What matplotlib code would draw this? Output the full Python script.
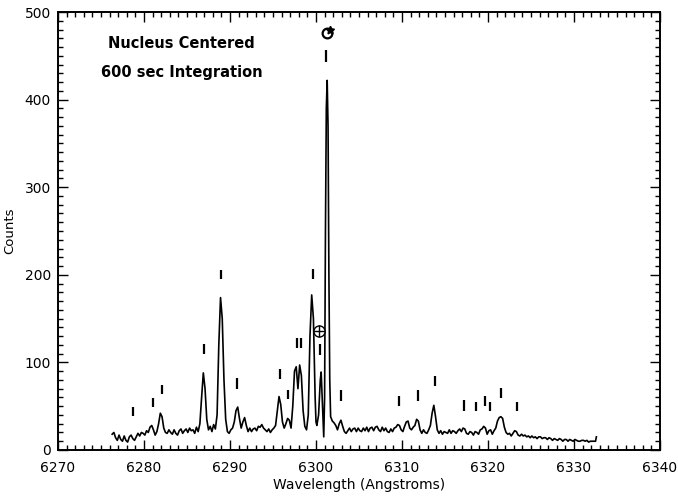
import numpy as np
import matplotlib
matplotlib.use("Agg")
import matplotlib.pyplot as plt
from matplotlib.ticker import MultipleLocator

# spectrum (Angstroms, counts)
wave = [
    6276.3, 6276.5, 6276.7, 6276.9, 6277.1, 6277.3, 6277.5, 6277.7, 6277.9, 6278.1,
    6278.3, 6278.5, 6278.7, 6278.9, 6279.1, 6279.3, 6279.5, 6279.7, 6279.9, 6280.1,
    6280.3, 6280.5, 6280.7, 6280.9, 6281.1, 6281.3, 6281.5, 6281.7, 6281.9, 6282.1,
    6282.3, 6282.5, 6282.7, 6282.9, 6283.1, 6283.3, 6283.5, 6283.7, 6283.9, 6284.1,
    6284.3, 6284.5, 6284.7, 6284.9, 6285.1, 6285.3, 6285.5, 6285.7, 6285.9, 6286.1,
    6286.3, 6286.5, 6286.7, 6286.9, 6287.1, 6287.3, 6287.5, 6287.7, 6287.9, 6288.1,
    6288.3, 6288.5, 6288.7, 6288.9, 6289.1, 6289.3, 6289.5, 6289.7, 6289.9, 6290.1,
    6290.3, 6290.5, 6290.7, 6290.9, 6291.1, 6291.3, 6291.5, 6291.7, 6291.9, 6292.1,
    6292.3, 6292.5, 6292.7, 6292.9, 6293.1, 6293.3, 6293.5, 6293.7, 6293.9, 6294.1,
    6294.3, 6294.5, 6294.7, 6294.9, 6295.1, 6295.3, 6295.5, 6295.7, 6295.9, 6296.1,
    6296.3, 6296.5, 6296.7, 6296.9, 6297.1, 6297.3, 6297.5, 6297.7, 6297.8, 6297.9,
    6298.1, 6298.3, 6298.5, 6298.7, 6298.9, 6299.1, 6299.3, 6299.5, 6299.7, 6299.9,
    6300.0, 6300.1, 6300.3, 6300.5, 6300.6, 6300.8, 6300.9, 6301.0, 6301.1, 6301.2,
    6301.3, 6301.4, 6301.5, 6301.6, 6301.7, 6301.9, 6302.1, 6302.3, 6302.5, 6302.7,
    6302.9, 6303.1, 6303.3, 6303.5, 6303.7, 6303.9, 6304.1, 6304.3, 6304.5, 6304.7,
    6304.9, 6305.1, 6305.3, 6305.5, 6305.7, 6305.9, 6306.1, 6306.3, 6306.5, 6306.7,
    6306.9, 6307.1, 6307.3, 6307.5, 6307.7, 6307.9, 6308.1, 6308.3, 6308.5, 6308.7,
    6308.9, 6309.1, 6309.3, 6309.5, 6309.7, 6309.9, 6310.1, 6310.3, 6310.5, 6310.7,
    6310.9, 6311.1, 6311.3, 6311.5, 6311.7, 6311.9, 6312.1, 6312.3, 6312.5, 6312.7,
    6312.9, 6313.1, 6313.3, 6313.5, 6313.7, 6313.9, 6314.1, 6314.3, 6314.5, 6314.7,
    6314.9, 6315.1, 6315.3, 6315.5, 6315.7, 6315.9, 6316.1, 6316.3, 6316.5, 6316.7,
    6316.9, 6317.1, 6317.3, 6317.5, 6317.7, 6317.9, 6318.1, 6318.3, 6318.5, 6318.7,
    6318.9, 6319.1, 6319.3, 6319.5, 6319.7, 6319.9, 6320.1, 6320.3, 6320.5, 6320.7,
    6320.9, 6321.1, 6321.3, 6321.5, 6321.7, 6321.9, 6322.1, 6322.3, 6322.5, 6322.7,
    6322.9, 6323.1, 6323.3, 6323.5, 6323.7, 6323.9, 6324.1, 6324.3, 6324.5, 6324.7,
    6324.9, 6325.1, 6325.3, 6325.5, 6325.7, 6325.9, 6326.1, 6326.3, 6326.5, 6326.7,
    6326.9, 6327.1, 6327.3, 6327.5, 6327.7, 6327.9, 6328.1, 6328.3, 6328.5, 6328.7,
    6328.9, 6329.1, 6329.3, 6329.5, 6329.7, 6329.9, 6330.1, 6330.3, 6330.5, 6330.7,
    6330.9, 6331.1, 6331.3, 6331.5, 6331.7, 6331.9, 6332.1, 6332.3, 6332.5, 6332.6,
]
counts = [
    18, 20, 14, 11, 17, 12, 10, 16, 11, 9,
    15, 17, 13, 11, 15, 19, 16, 20, 19, 17,
    22, 20, 26, 28, 23, 17, 21, 30, 42, 38,
    25, 20, 19, 23, 20, 18, 23, 19, 17, 22,
    24, 19, 22, 24, 20, 25, 22, 23, 19, 26,
    21, 30, 60, 88, 70, 35, 23, 27, 21, 29,
    24, 40, 120, 174, 150, 80, 35, 21, 19, 23,
    25, 32, 45, 49, 36, 25, 32, 37, 28, 21,
    25, 21, 24, 25, 22, 27, 26, 29, 25, 23,
    21, 24, 20, 23, 25, 28, 45, 61, 52, 32,
    25, 30, 36, 34, 25, 50, 90, 95, 82, 70,
    97, 85, 45, 27, 23, 40, 130, 177, 150, 60,
    32, 28, 40, 80, 89, 40, 15, 60, 250, 390,
    422, 370, 200, 80, 38, 33, 31, 28, 23, 30,
    34, 27, 21, 19, 22, 25, 21, 24, 25, 21,
    25, 22, 21, 25, 22, 26, 21, 25, 26, 22,
    26, 27, 23, 21, 26, 22, 25, 21, 20, 24,
    21, 25, 26, 29, 28, 23, 21, 27, 32, 33,
    25, 23, 26, 28, 35, 33, 23, 19, 23, 20,
    19, 23, 28, 42, 51, 38, 23, 19, 22, 18,
    21, 20, 19, 23, 19, 22, 21, 19, 22, 24,
    21, 25, 24, 19, 18, 21, 20, 17, 21, 20,
    18, 23, 24, 27, 25, 18, 22, 23, 18, 22,
    25, 33, 37, 38, 36, 26, 20, 18, 19, 16,
    19, 22, 21, 17, 16, 18, 16, 17, 15, 16,
    14, 16, 14, 15, 13, 15, 15, 13, 14, 14,
    12, 14, 13, 11, 13, 12, 11, 13, 12, 10,
    12, 12, 10, 12, 11, 10, 12, 11, 10, 10,
    11, 11, 10, 11, 9, 10, 10, 10, 10, 15,
]

# line identification marks (wavelength, bottom, top in counts)
mark_wave = [6278.7, 6281.0, 6282.05, 6287.0, 6288.9, 6290.85, 6295.8, 6296.8,
             6297.8, 6298.3, 6299.6, 6300.5, 6301.2, 6302.9, 6309.7, 6311.85,
             6313.8, 6317.2, 6318.6, 6319.6, 6320.2, 6321.5, 6323.4]
mark_lo = [39, 49, 64, 110, 195, 70, 81, 58, 116, 116, 195, 108, 443, 56, 50, 56,
           73, 45, 44, 50, 45, 59, 44]
mark_hi = [49, 59, 74, 121, 206, 82, 93, 69, 128, 128, 207, 121, 457, 69, 62, 69,
           85, 57, 55, 62, 55, 71, 55]

earth_pos = (6300.4, 136)
comet_pos = (6301.3, 476)

fig = plt.figure(figsize=(6.78, 4.97), dpi=100)
ax = fig.add_axes([0.0855, 0.0946, 0.888, 0.8812])

ax.plot(wave, counts, color="black", lw=1.2)
ax.vlines(mark_wave, mark_lo, mark_hi, color="black", lw=1.6)

# telluric and comet symbols
ax.plot(*earth_pos, marker="o", ms=8, mfc="white", mec="black", mew=1.0)
ax.plot(*earth_pos, marker="+", ms=8, color="black", mew=1.0)
ax.plot(*comet_pos, marker="o", ms=7, mfc="white", mec="black", mew=1.6)
ax.plot(comet_pos[0] + 0.35, comet_pos[1] + 4, marker=(5, 1, 0), ms=6, color="black")

ax.text(0.083, 0.929, "Nucleus Centered", transform=ax.transAxes,
        fontsize=10.5, fontweight="bold", family="DejaVu Sans", va="center")
ax.text(0.072, 0.863, "600 sec Integration", transform=ax.transAxes,
        fontsize=10.5, fontweight="bold", family="DejaVu Sans", va="center")

ax.set_xlim(6270, 6340)
ax.set_ylim(0, 500)
ax.xaxis.set_major_locator(MultipleLocator(10))
ax.xaxis.set_minor_locator(MultipleLocator(1))
ax.yaxis.set_major_locator(MultipleLocator(100))
ax.yaxis.set_minor_locator(MultipleLocator(10))
ax.tick_params(which="both", direction="in", top=True, right=True, width=1.0)
ax.tick_params(which="major", length=7, labelsize=10)
ax.tick_params(axis="x", which="major", pad=8)
ax.tick_params(axis="y", which="major", pad=5)
ax.tick_params(which="minor", length=3.5)
for s in ax.spines.values():
    s.set_linewidth(1.4)

ax.set_xlabel("Wavelength (Angstroms)", fontsize=10, labelpad=2)
ax.set_ylabel("Counts", fontsize=9.5, labelpad=6)

fig.savefig("out.png", dpi=100)
